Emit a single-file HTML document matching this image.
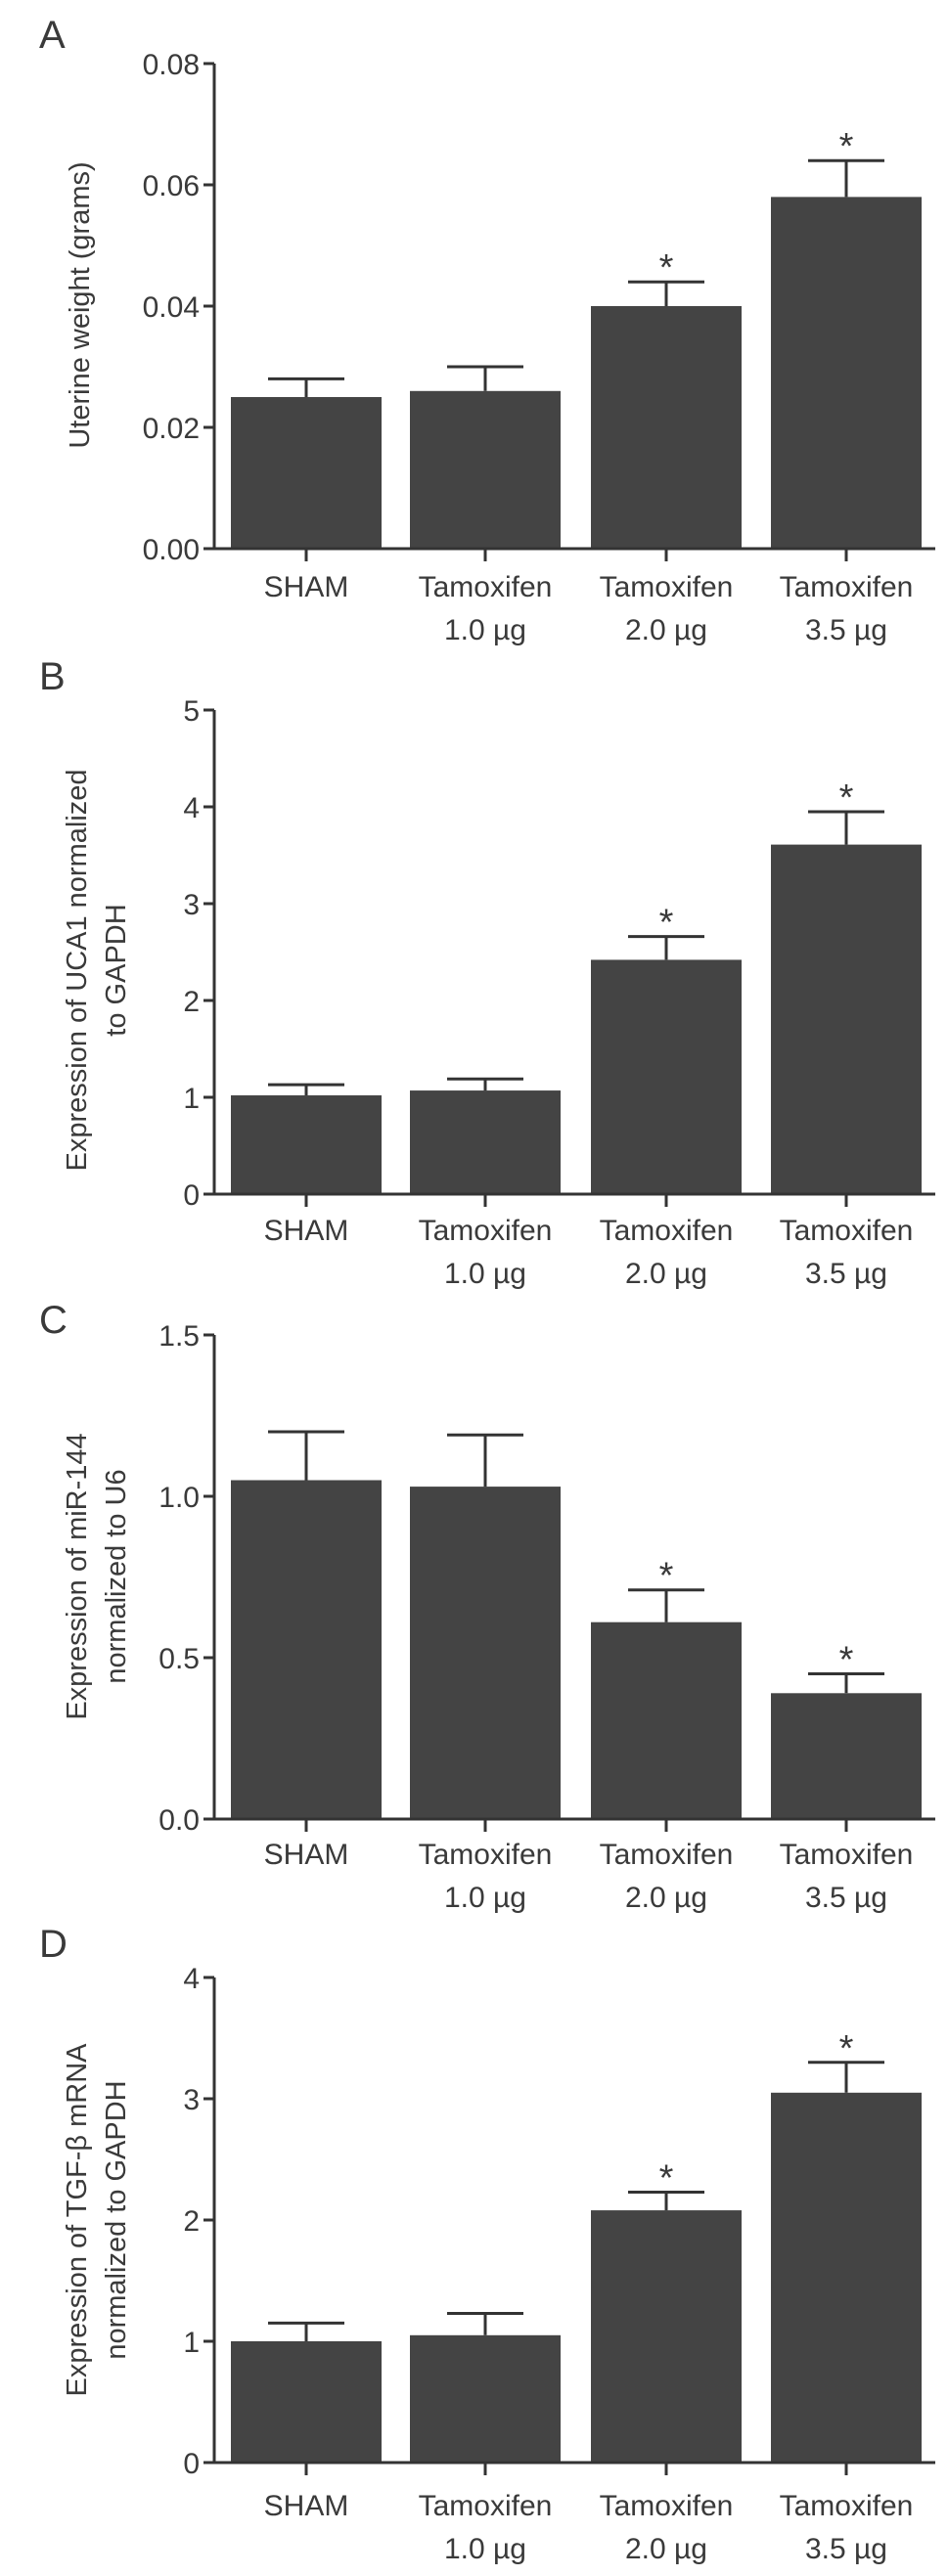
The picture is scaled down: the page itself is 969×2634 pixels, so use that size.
<!DOCTYPE html>
<html><head><meta charset="utf-8">
<style>
html,body{margin:0;padding:0;background:#fff;}
svg{display:block;}
text{font-family:"Liberation Sans",sans-serif;fill:#3a3a3a;}
</style></head>
<body>
<svg id="fig" width="969" height="2634" viewBox="0 0 969 2634" xmlns="http://www.w3.org/2000/svg"></svg>
<script>
const categories = ["SHAM","Tamoxifen|1.0 µg","Tamoxifen|2.0 µg","Tamoxifen|3.5 µg"];
const valuesA = [0.025,0.026,0.040,0.058];
const errorsA = [0.028,0.030,0.044,0.064];
const sigA = [false,false,true,true];
const ticksA = ["0.00","0.02","0.04","0.06","0.08"];
const valuesB = [1.02,1.07,2.42,3.61];
const errorsB = [1.13,1.19,2.66,3.95];
const sigB = [false,false,true,true];
const ticksB = ["0","1","2","3","4","5"];
const valuesC = [1.05,1.03,0.61,0.39];
const errorsC = [1.20,1.19,0.71,0.45];
const sigC = [false,false,true,true];
const ticksC = ["0.0","0.5","1.0","1.5"];
const valuesD = [1.00,1.05,2.08,3.05];
const errorsD = [1.15,1.23,2.23,3.30];
const sigD = [false,false,true,true];
const ticksD = ["0","1","2","3","4"];

const NS="http://www.w3.org/2000/svg";
const svg=document.getElementById('fig');
function mk(tag,attrs,parent){const e=document.createElementNS(NS,tag);for(const k in attrs)e.setAttribute(k,attrs[k]);(parent||svg).appendChild(e);return e;}

const panels=[
 {letter:"A",ly:49,top:65,bot:561,max:0.08,ticks:ticksA,vals:valuesA,errs:errorsA,sig:sigA,title:["Uterine weight (grams)"],tcy:312,l1:610,name:"uterine-weight"},
 {letter:"B",ly:705,top:726,bot:1221,max:5,ticks:ticksB,vals:valuesB,errs:errorsB,sig:sigB,title:["Expression of UCA1 normalized","to GAPDH"],tcy:992,l1:1268,name:"uca1"},
 {letter:"C",ly:1363,top:1365,bot:1860,max:1.5,ticks:ticksC,vals:valuesC,errs:errorsC,sig:sigC,title:["Expression of miR-144","normalized to U6"],tcy:1612,l1:1906,name:"mir144"},
 {letter:"D",ly:2001,top:2022,bot:2518,max:4,ticks:ticksD,vals:valuesD,errs:errorsD,sig:sigD,title:["Expression of TGF-β mRNA","normalized to GAPDH"],tcy:2270,l1:2572,name:"tgfb"}
];
const axisX=219, centers=[313,496,681,865], barW=154, capW=78;

panels.forEach(p=>{
  const g=mk('g',{});
  
  
  const y=v=>p.bot-(v/p.max)*(p.bot-p.top);
  const lt=mk('text',{x:40,y:p.ly,'font-size':40},g);lt.textContent=p.letter;
  
  
  p.vals.forEach((v,i)=>{
    const cx=centers[i];
    const r=mk('rect',{x:cx-barW/2,y:y(v),width:barW,height:p.bot-y(v),fill:'#444'},g);
    
    
    const e=mk('path',{d:`M${cx} ${y(v)}V${y(p.errs[i])}M${cx-capW/2} ${y(p.errs[i])}H${cx+capW/2}`,stroke:'#333','stroke-width':3,fill:'none'},g);
    
    
    if(p.sig[i]){
      const s=mk('text',{x:cx,y:y(p.errs[i])-2,'font-size':38,'text-anchor':'middle'},g);s.textContent='*';
      
      
    }
    const parts=categories[i].split('|');
    parts.forEach((t,k)=>{
      const tx=mk('text',{x:cx,y:p.l1+k*44,'font-size':30,'text-anchor':'middle'},g);tx.textContent=t;
      
      
    });
    mk('line',{x1:cx,x2:cx,y1:p.bot,y2:p.bot+13,stroke:'#333','stroke-width':3},g);
  });
  const ya=mk('line',{x1:axisX,x2:axisX,y1:p.top,y2:p.bot,stroke:'#333','stroke-width':3},g);
  
  
  const xa=mk('line',{x1:208,x2:956,y1:p.bot,y2:p.bot,stroke:'#333','stroke-width':3},g);
  
  
  p.ticks.forEach(t=>{
    const ty=y(parseFloat(t));
    mk('line',{x1:208,x2:axisX,y1:ty,y2:ty,stroke:'#333','stroke-width':3},g);
    const tl=mk('text',{x:204,y:ty+11,'font-size':30,'text-anchor':'end'},g);tl.textContent=t;
    
    
  });
  const n=p.title.length;
  p.title.forEach((t,k)=>{
    const xx = n===1?81+10:(78+k*40+10);
    const tt=mk('text',{x:xx,y:p.tcy,'font-size':29,'text-anchor':'middle',transform:`rotate(-90 ${xx} ${p.tcy})`},g);
    tt.textContent=t;
    
    
  });
});
</script>
</body></html>
